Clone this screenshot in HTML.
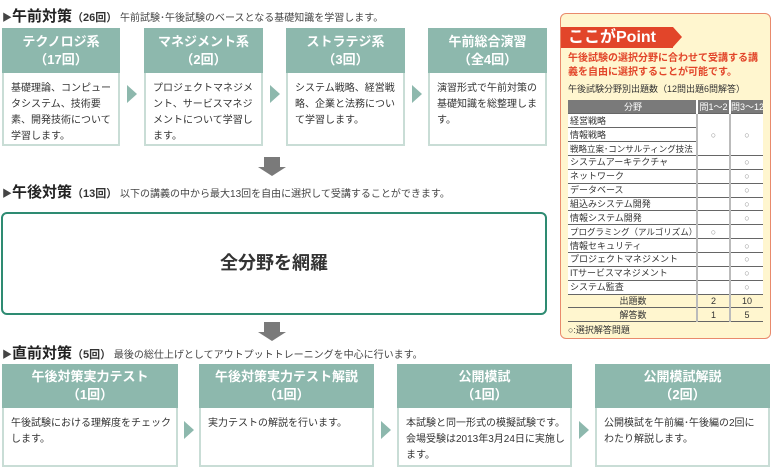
<!DOCTYPE html>
<html><head><meta charset="utf-8"><style>
*{margin:0;padding:0;box-sizing:border-box}
body{width:772px;height:472px;background:#fff;position:relative;overflow:hidden;font-family:"Liberation Sans","Noto Sans CJK JP",sans-serif;color:#333}
.a{position:absolute}
.t{font-size:10px;white-space:nowrap;color:#444}
.t b{font-size:15px;color:#222}
.t i{font-style:normal;font-weight:bold;font-size:11px;color:#333}
.h{position:absolute;background:#8db8ad;color:#fff;font-weight:bold;font-size:13px;text-align:center;line-height:18px;display:flex;flex-direction:column;justify-content:center}
.bd{position:absolute;border:2px solid #c9ddd6;border-top:none;background:#fff;font-size:10px;line-height:16px;padding:8px 5px 0 7px;color:#333}
.ar{position:absolute;width:0;height:0;border-top:9px solid transparent;border-bottom:9px solid transparent;border-left:10px solid #8db8ad}
.dn{position:absolute;width:28px}
.dn:before{content:"";display:block;margin:0 auto;width:16px;height:10px;background:#7a7a7a}
.dn:after{content:"";display:block;width:0;height:0;border-left:14px solid transparent;border-right:14px solid transparent;border-top:9px solid #7a7a7a}
table{border-collapse:collapse;font-size:9px;color:#333;table-layout:fixed}
td{height:13.87px;padding:0 0 0 2px;border-bottom:1px solid #666;white-space:nowrap;overflow:hidden;line-height:12px}
td.c{text-align:center;padding:0;border-left:2px solid #bbb;color:#888}
</style></head><body>

<div class="a t" style="left:2px;top:5px">▶<b>午前対策</b><i>（26回）</i> 午前試験･午後試験のベースとなる基礎知識を学習します。</div>

<div class="h" style="left:2px;top:28px;width:118px;height:45px">テクノロジ系<br>（17回）</div>
<div class="bd" style="left:2px;top:73px;width:118px;height:73px">基礎理論、コンピュータシステム、技術要素、開発技術について学習します。</div>
<div class="h" style="left:144px;top:28px;width:119px;height:45px">マネジメント系<br>（2回）</div>
<div class="bd" style="left:144px;top:73px;width:119px;height:73px">プロジェクトマネジメント、サービスマネジメントについて学習します。</div>
<div class="h" style="left:286px;top:28px;width:119px;height:45px">ストラテジ系<br>（3回）</div>
<div class="bd" style="left:286px;top:73px;width:119px;height:73px">システム戦略、経営戦略、企業と法務について学習します。</div>
<div class="h" style="left:428px;top:28px;width:119px;height:45px">午前総合演習<br>（全4回）</div>
<div class="bd" style="left:428px;top:73px;width:119px;height:73px">演習形式で午前対策の基礎知識を総整理します。</div>
<div class="ar" style="left:127px;top:85px"></div>
<div class="ar" style="left:270px;top:85px"></div>
<div class="ar" style="left:412px;top:85px"></div>

<div class="dn" style="left:258px;top:157px"></div>
<div class="a t" style="left:2px;top:181px">▶<b>午後対策</b><i>（13回）</i> 以下の講義の中から最大13回を自由に選択して受講することができます。</div>
<div class="a" style="left:1px;top:212px;width:546px;height:103px;border:2px solid #2e8b72;border-radius:6px;text-align:center;line-height:99px;font-size:18px;font-weight:bold;color:#333">全分野を網羅</div>

<div class="dn" style="left:258px;top:322px"></div>
<div class="a t" style="left:2px;top:342px">▶<b>直前対策</b><i>（5回）</i> 最後の総仕上げとしてアウトプットトレーニングを中心に行います。</div>

<div class="h" style="left:2px;top:364px;width:176px;height:44px">午後対策実力テスト<br>（1回）</div>
<div class="bd" style="left:2px;top:408px;width:176px;height:59px">午後試験における理解度をチェックします。</div>
<div class="h" style="left:199px;top:364px;width:175px;height:44px">午後対策実力テスト解説<br>（1回）</div>
<div class="bd" style="left:199px;top:408px;width:175px;height:59px">実力テストの解説を行います。</div>
<div class="h" style="left:397px;top:364px;width:175px;height:44px">公開模試<br>（1回）</div>
<div class="bd" style="left:397px;top:408px;width:175px;height:59px">本試験と同一形式の模擬試験です。会場受験は2013年3月24日に実施します。</div>
<div class="h" style="left:595px;top:364px;width:175px;height:44px">公開模試解説<br>（2回）</div>
<div class="bd" style="left:595px;top:408px;width:175px;height:59px">公開模試を午前編･午後編の2回にわたり解説します。</div>
<div class="ar" style="left:184px;top:421px"></div>
<div class="ar" style="left:381px;top:421px"></div>
<div class="ar" style="left:579px;top:421px"></div>

<div class="a" style="left:560px;top:13px;width:211px;height:326px;background:#fff6cf;border:1.5px solid #e98a6c;border-radius:6px"></div>
<div class="a" style="left:561px;top:27px;width:112px;height:21px;background:#e2452a;color:#fff;font-weight:bold;font-size:16px;line-height:21px;padding-left:7px">ここがPoint</div>
<div class="a" style="left:673px;top:27px;width:0;height:0;border-top:10.5px solid transparent;border-bottom:10.5px solid transparent;border-left:9px solid #e2452a"></div>
<div class="a" style="left:568px;top:52px;font-size:10px;font-weight:bold;color:#e2452a;line-height:14px;width:196px">午後試験の選択分野に合わせて受講する講義を自由に選択することが可能です。</div>
<div class="a t" style="left:568px;top:82px;font-size:9px;color:#333">午後試験分野別出題数（12問出題6問解答）</div>
<div class="a" style="left:568px;top:100px;width:195px;background:#fff">
<table style="width:195px">
<colgroup><col style="width:129px"><col style="width:33px"><col style="width:33px"></colgroup>
<tr style="background:#7a7a7a;color:#fff"><td style="text-align:center;color:#fff">分野</td><td class="c" style="color:#fff;border-left-color:#fff">問1～2</td><td class="c" style="color:#fff;border-left-color:#fff">問3～12</td></tr>
<tr><td>経営戦略</td><td class="c" rowspan="3">○</td><td class="c" rowspan="3">○</td></tr>
<tr><td>情報戦略</td></tr>
<tr><td style="font-size:8.5px">戦略立案･コンサルティング技法</td></tr>
<tr><td>システムアーキテクチャ</td><td class="c"></td><td class="c">○</td></tr>
<tr><td>ネットワーク</td><td class="c"></td><td class="c">○</td></tr>
<tr><td>データベース</td><td class="c"></td><td class="c">○</td></tr>
<tr><td>組込みシステム開発</td><td class="c"></td><td class="c">○</td></tr>
<tr><td>情報システム開発</td><td class="c"></td><td class="c">○</td></tr>
<tr><td style="font-size:8.5px">プログラミング（アルゴリズム）</td><td class="c">○</td><td class="c"></td></tr>
<tr><td>情報セキュリティ</td><td class="c"></td><td class="c">○</td></tr>
<tr><td>プロジェクトマネジメント</td><td class="c"></td><td class="c">○</td></tr>
<tr><td>ITサービスマネジメント</td><td class="c"></td><td class="c">○</td></tr>
<tr><td>システム監査</td><td class="c"></td><td class="c">○</td></tr>
<tr style="background:#fff6cf"><td style="text-align:center">出題数</td><td class="c" style="color:#333">2</td><td class="c" style="color:#333">10</td></tr>
<tr style="background:#fff6cf"><td style="text-align:center">解答数</td><td class="c" style="color:#333">1</td><td class="c" style="color:#333">5</td></tr>
</table></div>
<div class="a t" style="left:568px;top:323px;font-size:9px;color:#333">○:選択解答問題</div>
</body></html>
